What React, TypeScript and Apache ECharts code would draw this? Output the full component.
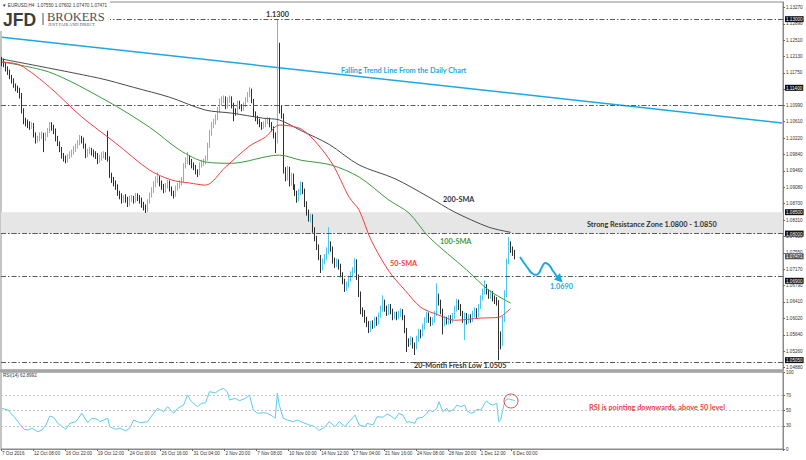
import React, { useEffect, useRef } from "react";
import * as echarts from "echarts";

// ---------- DATA ----------
const xTickLabels = [
  "7 Oct 2016", "12 Oct 08:00", "16 Oct 22:00", "19 Oct 12:00", "24 Oct 00:00",
  "26 Oct 16:00", "31 Oct 04:00", "2 Nov 20:00", "7 Nov 08:00", "10 Nov 00:00",
  "14 Nov 12:00", "17 Nov 04:00", "21 Nov 16:00", "24 Nov 08:00", "28 Nov 20:00",
  "1 Dec 12:00", "6 Dec 00:00",
];
const barsPerLabel = 16;
const totalSlots = 392;

// [open, close, low, high]
const candles: number[][] = [
  [1.1205, 1.1200, 1.1190, 1.1212], [1.1200, 1.1195, 1.1188, 1.1208], [1.1195, 1.1185, 1.1178, 1.1200],
  [1.1185, 1.1176, 1.1170, 1.1190], [1.1176, 1.1165, 1.1160, 1.1182], [1.1165, 1.1158, 1.1150, 1.1170],
  [1.1158, 1.1145, 1.1140, 1.1162], [1.1145, 1.1139, 1.1132, 1.1150], [1.1139, 1.1134, 1.1128, 1.1145],
  [1.1134, 1.1123, 1.1115, 1.1140], [1.1123, 1.1088, 1.1080, 1.1128], [1.1088, 1.1062, 1.1055, 1.1092],
  [1.1062, 1.1058, 1.1050, 1.1070], [1.1058, 1.1055, 1.1046, 1.1066], [1.1055, 1.1050, 1.1042, 1.1062],
  [1.1050, 1.1052, 1.1044, 1.1060], [1.1052, 1.1030, 1.1024, 1.1058], [1.1030, 1.1018, 1.1010, 1.1036],
  [1.1018, 1.1020, 1.1012, 1.1028], [1.1020, 1.1028, 1.1015, 1.1036], [1.1028, 1.1030, 1.1020, 1.1038],
  [1.1030, 1.1022, 1.0990, 1.1035], [1.1022, 1.1030, 1.1016, 1.1036], [1.1030, 1.1040, 1.1025, 1.1046],
  [1.1040, 1.1053, 1.1035, 1.1060], [1.1053, 1.1048, 1.1040, 1.1060], [1.1048, 1.1040, 1.1032, 1.1054],
  [1.1040, 1.1022, 1.1015, 1.1045], [1.1022, 1.1010, 1.1004, 1.1028], [1.1010, 1.0998, 1.0990, 1.1015],
  [1.0998, 1.0982, 1.0975, 1.1002], [1.0982, 1.0975, 1.0968, 1.0988], [1.0975, 1.0971, 1.0964, 1.0982],
  [1.0971, 1.0980, 1.0966, 1.0986], [1.0980, 1.0985, 1.0974, 1.0992], [1.0985, 1.0990, 1.0978, 1.0996],
  [1.0990, 1.0998, 1.0984, 1.1004], [1.0998, 1.1005, 1.0990, 1.1010], [1.1005, 1.1012, 1.0998, 1.1018],
  [1.1012, 1.1023, 1.1006, 1.1030], [1.1023, 1.1018, 1.1010, 1.1028], [1.1018, 1.1005, 1.0998, 1.1024],
  [1.1005, 1.0983, 1.0976, 1.1010], [1.0983, 1.0992, 1.0978, 1.0998], [1.0992, 1.0995, 1.0985, 1.1002],
  [1.0995, 1.0990, 1.0982, 1.1000], [1.0990, 1.0986, 1.0978, 1.0996], [1.0986, 1.0982, 1.0974, 1.0992],
  [1.0982, 1.0971, 1.0962, 1.0988], [1.0971, 1.0978, 1.0965, 1.0984], [1.0978, 1.0982, 1.0970, 1.0990],
  [1.0982, 1.0985, 1.0975, 1.0992], [1.0985, 1.0980, 1.0972, 1.0990], [1.0980, 1.0975, 1.0968, 1.1040],
  [1.0975, 1.0936, 1.0930, 1.0980], [1.0936, 1.0925, 1.0918, 1.0942], [1.0925, 1.0918, 1.0910, 1.0932],
  [1.0918, 1.0910, 1.0902, 1.0924], [1.0910, 1.0895, 1.0888, 1.0915], [1.0895, 1.0888, 1.0880, 1.0900],
  [1.0888, 1.0878, 1.0870, 1.0894], [1.0878, 1.0882, 1.0872, 1.0890], [1.0882, 1.0880, 1.0872, 1.0892],
  [1.0880, 1.0870, 1.0862, 1.0886], [1.0870, 1.0880, 1.0864, 1.0888], [1.0880, 1.0882, 1.0874, 1.0890],
  [1.0882, 1.0878, 1.0870, 1.0888], [1.0878, 1.0888, 1.0872, 1.0895], [1.0888, 1.0885, 1.0876, 1.0894],
  [1.0885, 1.0878, 1.0870, 1.0890], [1.0878, 1.0868, 1.0860, 1.0884], [1.0868, 1.0862, 1.0854, 1.0874],
  [1.0862, 1.0855, 1.0848, 1.0868], [1.0855, 1.0875, 1.0850, 1.0880], [1.0875, 1.0890, 1.0870, 1.0896],
  [1.0890, 1.0901, 1.0884, 1.0908], [1.0901, 1.0915, 1.0895, 1.0922], [1.0915, 1.0925, 1.0908, 1.0934],
  [1.0925, 1.0929, 1.0918, 1.0943], [1.0929, 1.0918, 1.0910, 1.0934], [1.0918, 1.0910, 1.0902, 1.0924],
  [1.0910, 1.0901, 1.0894, 1.0916], [1.0901, 1.0912, 1.0896, 1.0918], [1.0912, 1.0918, 1.0905, 1.0925],
  [1.0918, 1.0905, 1.0898, 1.0924], [1.0905, 1.0895, 1.0888, 1.0910], [1.0895, 1.0892, 1.0882, 1.0900],
  [1.0892, 1.0906, 1.0886, 1.0912], [1.0906, 1.0912, 1.0900, 1.0918], [1.0912, 1.0918, 1.0905, 1.0924],
  [1.0918, 1.0925, 1.0912, 1.0932], [1.0925, 1.0958, 1.0920, 1.0964], [1.0958, 1.0970, 1.0952, 1.0978],
  [1.0970, 1.0976, 1.0962, 1.0990], [1.0976, 1.0968, 1.0960, 1.0982], [1.0968, 1.0960, 1.0952, 1.0974],
  [1.0960, 1.0955, 1.0948, 1.0966], [1.0955, 1.0945, 1.0938, 1.0960], [1.0945, 1.0941, 1.0932, 1.0950],
  [1.0941, 1.0960, 1.0936, 1.0966], [1.0960, 1.0965, 1.0954, 1.0972], [1.0965, 1.0968, 1.0958, 1.0975],
  [1.0968, 1.0975, 1.0962, 1.0982], [1.0975, 1.1005, 1.0970, 1.1012], [1.1005, 1.1035, 1.1000, 1.1042],
  [1.1035, 1.1053, 1.1028, 1.1060], [1.1053, 1.1060, 1.1046, 1.1068], [1.1060, 1.1070, 1.1054, 1.1078],
  [1.1070, 1.1088, 1.1064, 1.1095], [1.1088, 1.1108, 1.1082, 1.1115], [1.1108, 1.1111, 1.1100, 1.1120],
  [1.1111, 1.1115, 1.1104, 1.1122], [1.1115, 1.1098, 1.1090, 1.1120], [1.1098, 1.1112, 1.1092, 1.1118],
  [1.1112, 1.1116, 1.1105, 1.1122], [1.1116, 1.1100, 1.1092, 1.1120], [1.1100, 1.1085, 1.1062, 1.1105],
  [1.1085, 1.1083, 1.1075, 1.1092], [1.1083, 1.1105, 1.1078, 1.1110], [1.1105, 1.1098, 1.1090, 1.1110],
  [1.1098, 1.1092, 1.1085, 1.1102], [1.1092, 1.1100, 1.1086, 1.1106], [1.1100, 1.1112, 1.1095, 1.1118],
  [1.1112, 1.1125, 1.1106, 1.1130], [1.1125, 1.1135, 1.1118, 1.1141], [1.1135, 1.1110, 1.1104, 1.1138],
  [1.1110, 1.1080, 1.1072, 1.1114], [1.1080, 1.1069, 1.1062, 1.1085], [1.1069, 1.1062, 1.1055, 1.1075],
  [1.1062, 1.1055, 1.1048, 1.1068], [1.1055, 1.1050, 1.1042, 1.1060], [1.1050, 1.1055, 1.1044, 1.1062],
  [1.1055, 1.1062, 1.1048, 1.1068], [1.1062, 1.1065, 1.1055, 1.1072], [1.1065, 1.1055, 1.1048, 1.1070],
  [1.1055, 1.1045, 1.1038, 1.1060], [1.1045, 1.1030, 1.1022, 1.1050], [1.1030, 1.1018, 1.0988, 1.1036],
  [1.1018, 1.1232, 1.1010, 1.1300], [1.1232, 1.1090, 1.1080, 1.1245], [1.1090, 1.1075, 1.1068, 1.1098],
  [1.1075, 1.0948, 1.0940, 1.1080], [1.0948, 1.0930, 1.0922, 1.0955], [1.0930, 1.0950, 1.0924, 1.0958],
  [1.0950, 1.0918, 1.0910, 1.0956], [1.0918, 1.0935, 1.0912, 1.0942], [1.0935, 1.0910, 1.0902, 1.0940],
  [1.0910, 1.0895, 1.0888, 1.0915], [1.0895, 1.0880, 1.0872, 1.0900], [1.0880, 1.0897, 1.0875, 1.0904],
  [1.0897, 1.0915, 1.0890, 1.0922], [1.0915, 1.0900, 1.0892, 1.0920], [1.0900, 1.0870, 1.0862, 1.0905],
  [1.0870, 1.0850, 1.0842, 1.0875], [1.0850, 1.0835, 1.0828, 1.0856], [1.0835, 1.0840, 1.0826, 1.0846],
  [1.0840, 1.0810, 1.0802, 1.0845], [1.0810, 1.0790, 1.0782, 1.0815], [1.0790, 1.0770, 1.0762, 1.0795],
  [1.0770, 1.0745, 1.0738, 1.0775], [1.0745, 1.0720, 1.0708, 1.0750], [1.0720, 1.0735, 1.0714, 1.0742],
  [1.0735, 1.0745, 1.0728, 1.0752], [1.0745, 1.0760, 1.0738, 1.0768], [1.0760, 1.0775, 1.0752, 1.0815],
  [1.0775, 1.0765, 1.0758, 1.0782], [1.0765, 1.0738, 1.0730, 1.0770], [1.0738, 1.0728, 1.0720, 1.0744],
  [1.0728, 1.0735, 1.0722, 1.0742], [1.0735, 1.0725, 1.0716, 1.0740], [1.0725, 1.0705, 1.0698, 1.0730],
  [1.0705, 1.0690, 1.0682, 1.0710], [1.0690, 1.0672, 1.0664, 1.0695], [1.0672, 1.0680, 1.0666, 1.0688],
  [1.0680, 1.0695, 1.0674, 1.0702], [1.0695, 1.0705, 1.0688, 1.0712], [1.0705, 1.0715, 1.0698, 1.0722],
  [1.0715, 1.0735, 1.0708, 1.0743], [1.0735, 1.0700, 1.0692, 1.0740], [1.0700, 1.0660, 1.0652, 1.0705],
  [1.0660, 1.0620, 1.0612, 1.0665], [1.0620, 1.0615, 1.0606, 1.0628], [1.0615, 1.0600, 1.0592, 1.0622],
  [1.0600, 1.0590, 1.0582, 1.0606], [1.0590, 1.0575, 1.0568, 1.0596], [1.0575, 1.0590, 1.0570, 1.0596],
  [1.0590, 1.0585, 1.0578, 1.0598], [1.0585, 1.0600, 1.0580, 1.0606], [1.0600, 1.0592, 1.0585, 1.0606],
  [1.0592, 1.0610, 1.0588, 1.0616], [1.0610, 1.0625, 1.0604, 1.0632], [1.0625, 1.0640, 1.0618, 1.0656],
  [1.0640, 1.0625, 1.0618, 1.0646], [1.0625, 1.0615, 1.0608, 1.0632], [1.0615, 1.0630, 1.0610, 1.0636],
  [1.0630, 1.0620, 1.0612, 1.0636], [1.0620, 1.0605, 1.0598, 1.0625], [1.0605, 1.0612, 1.0600, 1.0618],
  [1.0612, 1.0605, 1.0598, 1.0618], [1.0605, 1.0612, 1.0600, 1.0620], [1.0612, 1.0618, 1.0606, 1.0626],
  [1.0618, 1.0605, 1.0598, 1.0624], [1.0605, 1.0575, 1.0568, 1.0610], [1.0575, 1.0548, 1.0524, 1.0580],
  [1.0548, 1.0545, 1.0536, 1.0556], [1.0545, 1.0552, 1.0540, 1.0560], [1.0552, 1.0540, 1.0532, 1.0558],
  [1.0540, 1.0535, 1.0517, 1.0546], [1.0535, 1.0555, 1.0530, 1.0562], [1.0555, 1.0570, 1.0548, 1.0578],
  [1.0570, 1.0565, 1.0556, 1.0576], [1.0565, 1.0582, 1.0560, 1.0590], [1.0582, 1.0598, 1.0576, 1.0605],
  [1.0598, 1.0610, 1.0592, 1.0618], [1.0610, 1.0600, 1.0592, 1.0616], [1.0600, 1.0592, 1.0584, 1.0606],
  [1.0592, 1.0598, 1.0586, 1.0605], [1.0598, 1.0612, 1.0592, 1.0620], [1.0612, 1.0650, 1.0608, 1.0684],
  [1.0650, 1.0640, 1.0632, 1.0660], [1.0640, 1.0620, 1.0612, 1.0646], [1.0620, 1.0590, 1.0565, 1.0625],
  [1.0590, 1.0600, 1.0584, 1.0608], [1.0600, 1.0595, 1.0588, 1.0606], [1.0595, 1.0603, 1.0588, 1.0610],
  [1.0603, 1.0598, 1.0590, 1.0610], [1.0598, 1.0608, 1.0592, 1.0615], [1.0608, 1.0625, 1.0602, 1.0632],
  [1.0625, 1.0640, 1.0618, 1.0648], [1.0640, 1.0630, 1.0622, 1.0646], [1.0630, 1.0615, 1.0608, 1.0636],
  [1.0615, 1.0600, 1.0592, 1.0620], [1.0600, 1.0610, 1.0552, 1.0616], [1.0610, 1.0595, 1.0588, 1.0615],
  [1.0595, 1.0605, 1.0590, 1.0612], [1.0605, 1.0600, 1.0592, 1.0612], [1.0600, 1.0612, 1.0594, 1.0620],
  [1.0612, 1.0620, 1.0605, 1.0628], [1.0620, 1.0610, 1.0602, 1.0626], [1.0610, 1.0630, 1.0605, 1.0636],
  [1.0630, 1.0650, 1.0624, 1.0656], [1.0650, 1.0665, 1.0644, 1.0672], [1.0665, 1.0675, 1.0658, 1.0691],
  [1.0675, 1.0665, 1.0658, 1.0682], [1.0665, 1.0655, 1.0648, 1.0670], [1.0655, 1.0660, 1.0648, 1.0668],
  [1.0660, 1.0650, 1.0642, 1.0666], [1.0650, 1.0645, 1.0636, 1.0656], [1.0645, 1.0640, 1.0632, 1.0652],
  [1.0640, 1.0560, 1.0505, 1.0645], [1.0560, 1.0545, 1.0530, 1.0572], [1.0545, 1.0600, 1.0538, 1.0608],
  [1.0600, 1.0660, 1.0594, 1.0668], [1.0660, 1.0735, 1.0652, 1.0742], [1.0735, 1.0775, 1.0728, 1.0792],
  [1.0775, 1.0762, 1.0755, 1.0782], [1.0762, 1.0755, 1.0748, 1.0770], [1.0755, 1.0747, 1.0740, 1.0762],
];

// moving averages: [bar index, value]
const sma200 = [
  [0, 1.1207], [49, 1.1162], [66, 1.1141], [84, 1.1118], [102, 1.1088], [115, 1.1081], [131, 1.1069],
  [139, 1.1065], [150, 1.104], [164, 1.1008], [179, 1.096], [197, 1.0928], [214, 1.0885], [227, 1.085],
  [244, 1.0815], [255, 1.0803],
];
const sma100 = [
  [0, 1.12], [24, 1.1176], [52, 1.1111], [74, 1.1048], [89, 1.0995], [102, 1.0967], [115, 1.0964],
  [139, 1.0983], [150, 1.0971], [165, 1.096], [179, 1.0932], [194, 1.0878], [204, 1.0848], [214, 1.0792],
  [233, 1.0715], [244, 1.0668], [255, 1.0638],
];
const sma50 = [
  [0, 1.12], [9, 1.1193], [24, 1.1141], [40, 1.1072], [57, 1.1011], [74, 1.0948], [85, 1.0925],
  [94, 1.0918], [102, 1.0913], [112, 1.0955], [124, 1.1004], [132, 1.1025], [139, 1.1053], [151, 1.1041],
  [165, 1.0967], [174, 1.0885], [179, 1.0855], [185, 1.0785], [194, 1.0712], [202, 1.0668], [210, 1.0628],
  [219, 1.061], [227, 1.0598], [240, 1.0603], [249, 1.0605], [255, 1.0626],
];
const trendLine = [[0, 1.1258], [391, 1.1058]];

const rsi = [
  [0, 52.8], [3, 50.6], [6, 42], [8, 35.5], [11, 25.6], [13, 24.7], [15, 26.9], [18, 22.5], [20, 24.7],
  [22, 31], [24, 42.8], [26, 41], [28, 33.4], [32, 25.6], [34, 33.4], [37, 35.5], [40, 46.4], [43, 34.2],
  [45, 39.9], [48, 38.6], [49, 35.5], [53, 39.9], [54, 29], [57, 25.6], [59, 26.9], [62, 23.8], [64, 26.9],
  [66, 37.7], [69, 34.2], [73, 35.5], [76, 46.4], [78, 52.8], [81, 48.4], [83, 55], [86, 46.4], [88, 52.8],
  [91, 57], [93, 70], [95, 61.4], [98, 55], [100, 59.4], [102, 60], [104, 74.4], [107, 73], [109, 76.6],
  [111, 78.8], [113, 74.4], [114, 63.6], [117, 65.8], [119, 62.7], [122, 65.8], [124, 70], [126, 50.6],
  [128, 46.4], [131, 47.1], [133, 46.4], [136, 42], [137, 39.9], [138, 72.3], [139, 57], [141, 39.9],
  [143, 37.7], [146, 35.5], [148, 37.7], [151, 34.2], [154, 31.2], [157, 29], [159, 23.8], [162, 29],
  [164, 35.5], [167, 29], [169, 35.5], [172, 29], [174, 35.5], [177, 44], [179, 31.2], [182, 29],
  [183, 33.4], [186, 31.2], [188, 42], [191, 41.2], [193, 45.5], [195, 42.9], [197, 38.6], [199, 46.4],
  [201, 44], [203, 34.2], [204, 35.5], [207, 33.4], [208, 39.9], [211, 41.2], [213, 46.4], [214, 50.6],
  [216, 48.4], [218, 52.8], [219, 61.4], [221, 48.4], [223, 52.8], [224, 48.4], [226, 50.6], [228, 57],
  [230, 55], [232, 57], [233, 49.7], [235, 46.4], [237, 48.4], [238, 51.5], [240, 50.6], [242, 59.4],
  [243, 62.7], [244, 59.4], [246, 57], [248, 59.4], [249, 35.5], [250, 37.7], [251, 50.6], [252, 61.4],
  [253, 64.5], [254, 65], [256, 63.6], [257, 62.9],
];

const priceTicks = [
  1.0488, 1.0526, 1.0564, 1.0602, 1.0641, 1.0679, 1.0717, 1.0755, 1.0793, 1.0831, 1.087, 1.0908,
  1.0946, 1.0984, 1.1022, 1.1061, 1.1099, 1.1137, 1.1175, 1.1213, 1.1251, 1.1289, 1.1327,
];
const keyLevels = [1.13, 1.114, 1.085, 1.08, 1.069, 1.0505];
const lastPrice = 1.07471;
const resistanceZone = [1.08, 1.085];
const rsiTicks = [0, 30, 50, 70, 100];
const rsiLevels = [30, 50, 70];
const headerText = "\u25BC EURUSD,H4  1.07550 1.07602 1.07470 1.07471";
const rsiHeader = "RSI(14) 62.8992";

// ---------- STYLE ----------
const BULL = "#4cc6f2";
const BEAR = "#2e2e2e";
const BLUE = "#1ea8e0";
const RED = "#f04040";
const GREEN = "#3a9a3a";
const DARK = "#333333";
const AX_FONT = "Liberation Sans";
const ANN_FONT = "Lato";

const categories = Array.from({ length: totalSlots }, (_, i) => String(i));
const isTick = (i: number) => i % barsPerLabel === 0 && i / barsPerLabel < xTickLabels.length;

function annText(text: string, x: number, y: number, fill: string) {
  return {
    type: "text",
    x,
    y,
    z: 100,
    style: { text, fill, font: `bold 7.3px ${ANN_FONT}`, textVerticalAlign: "middle" },
  };
}

function buildOption() {
  return {
    animation: false,
    backgroundColor: "#ffffff",
    grid: [
      { left: 1, right: 23, top: 2, height: 368, show: true, borderColor: "#8a8a8a", borderWidth: 1, outerBoundsMode: "none" },
      { left: 1, right: 23, top: 372, height: 77, show: true, borderColor: "#8a8a8a", borderWidth: 1, outerBoundsMode: "none" },
    ],
    xAxis: [
      {
        type: "category", gridIndex: 0, data: categories, boundaryGap: true,
        axisLine: { show: false }, axisTick: { show: false }, axisLabel: { show: false }, splitLine: { show: false },
      },
      {
        type: "category", gridIndex: 1, data: categories, boundaryGap: true,
        axisLine: { show: true, lineStyle: { color: "#8a8a8a" } },
        axisTick: { show: true, interval: (i: number) => isTick(i), length: 2, lineStyle: { color: "#666" } },
        axisLabel: {
          show: true,
          interval: (i: number) => isTick(i),
          formatter: (_v: string, i: number) => (isTick(i) ? xTickLabels[i / barsPerLabel] : ""),
          align: "left",
          fontSize: 4.6,
          fontFamily: AX_FONT,
          color: DARK,
          margin: 2,
        },
        splitLine: { show: false },
      },
    ],
    yAxis: [
      {
        type: "value", gridIndex: 0, position: "right", min: 1.0482, max: 1.134, scale: true,
        axisLine: { show: true, lineStyle: { color: "#8a8a8a" } },
        axisTick: { show: true, length: 2, customValues: priceTicks, lineStyle: { color: "#666" } },
        axisLabel: {
          customValues: priceTicks,
          formatter: (v: number) => v.toFixed(5),
          fontSize: 4.6, fontFamily: AX_FONT, color: DARK, margin: 3,
        },
        splitLine: { show: false },
      },
      {
        type: "value", gridIndex: 0, position: "right", min: 1.0482, max: 1.134, scale: true,
        axisLine: { show: false }, axisTick: { show: false }, splitLine: { show: false },
        axisLabel: {
          customValues: [...keyLevels, lastPrice],
          formatter: (v: number) => (v === lastPrice ? `{g|${v.toFixed(5)}}` : `{b|${v.toFixed(5)}}`),
          margin: 2,
          rich: {
            b: { backgroundColor: "#111", color: "#fff", fontSize: 4.6, fontFamily: AX_FONT, padding: [1, 1, 0, 1] },
            g: { backgroundColor: "#555", color: "#fff", fontSize: 4.6, fontFamily: AX_FONT, padding: [1, 1, 0, 1] },
          },
        },
      },
      {
        type: "value", gridIndex: 1, position: "right", min: 0, max: 100,
        axisLine: { show: true, lineStyle: { color: "#8a8a8a" } },
        axisTick: { show: true, length: 2, customValues: rsiTicks, lineStyle: { color: "#666" } },
        axisLabel: { customValues: rsiTicks, fontSize: 4.6, fontFamily: AX_FONT, color: DARK, margin: 3 },
        splitLine: { show: false },
      },
    ],
    series: [
      {
        name: "Trend",
        type: "line",
        xAxisIndex: 0, yAxisIndex: 0,
        data: trendLine,
        symbol: "none",
        lineStyle: { color: BLUE, width: 1.5 },
        z: 1,
        silent: true,
        markArea: {
          silent: true,
          itemStyle: { color: "#e6e6e6" },
          data: [[{ yAxis: resistanceZone[0] }, { yAxis: resistanceZone[1] }]],
        },
        markLine: {
          silent: true,
          symbol: ["none", "none"],
          label: { show: false },
          lineStyle: { color: "#5a5a5a", type: [5, 2, 1.5, 2], width: 1 },
          data: keyLevels.map((v) => ({ yAxis: v })),
        },
      },
      {
        name: "EURUSD",
        type: "candlestick",
        xAxisIndex: 0, yAxisIndex: 0,
        data: candles,
        barWidth: 1,
        z: 3,
        itemStyle: { color: BULL, color0: BEAR, borderColor: BULL, borderColor0: BEAR, borderWidth: 1 },
      },
      {
        name: "200-SMA", type: "line", xAxisIndex: 0, yAxisIndex: 0, data: sma200, symbol: "none",
        smooth: 0.3, lineStyle: { color: "#4a4a4a", width: 1 }, z: 4,
      },
      {
        name: "100-SMA", type: "line", xAxisIndex: 0, yAxisIndex: 0, data: sma100, symbol: "none",
        smooth: 0.3, lineStyle: { color: GREEN, width: 1 }, z: 4,
      },
      {
        name: "50-SMA", type: "line", xAxisIndex: 0, yAxisIndex: 0, data: sma50, symbol: "none",
        smooth: 0.3, lineStyle: { color: RED, width: 1 }, z: 4,
      },
      {
        name: "RSI", type: "line", xAxisIndex: 1, yAxisIndex: 2, data: rsi, symbol: "none",
        lineStyle: { color: "#5ccbee", width: 1 }, z: 4,
        markLine: {
          silent: true,
          symbol: ["none", "none"],
          label: { show: false },
          lineStyle: { color: "#c4c4c4", type: [2, 2], width: 1 },
          data: rsiLevels.map((v) => ({ yAxis: v })),
        },
      },
    ],
    graphic: [
      // separator between panels
      { type: "rect", z: 90, shape: { x: 0, y: 369.5, width: 784, height: 3 }, style: { fill: "#a6a6a6" } },
      // logo & header background
      { type: "rect", z: 95, shape: { x: 0, y: 0, width: 110, height: 31 }, style: { fill: "#ffffff" } },
      { type: "text", z: 100, x: 2, y: 5, style: { text: headerText, fill: DARK, font: `4.6px ${AX_FONT}`, textVerticalAlign: "middle" } },
      { type: "text", z: 100, x: 3, y: 19.5, style: { text: "JFD", fill: "#3c3c3c", font: `bold 17.5px ${AX_FONT}`, textVerticalAlign: "middle" } },
      { type: "rect", z: 100, shape: { x: 42.5, y: 13, width: 1, height: 12 }, style: { fill: "#555" } },
      { type: "text", z: 100, x: 47, y: 16.5, style: { text: "BROKERS", fill: "#505050", font: `12.5px "Liberation Serif"`, textVerticalAlign: "middle" } },
      { type: "text", z: 100, x: 48, y: 24.5, style: { text: "JUST FAIR AND DIRECT", fill: "#505050", font: `4.3px "Liberation Serif"`, textVerticalAlign: "middle" } },
      { type: "text", z: 100, x: 3, y: 375.5, style: { text: rsiHeader, fill: DARK, font: `4.6px ${AX_FONT}`, textVerticalAlign: "middle" } },
      // annotations
      annText("1.1300", 266, 14.5, DARK),
      annText("Falling Trend Line From the Daily Chart", 341, 70, BLUE),
      annText("200-SMA", 443, 199, DARK),
      annText("Strong Resistance Zone 1.0800 - 1.0850", 587, 224, DARK),
      annText("100-SMA", 440, 241, GREEN),
      annText("50-SMA", 390, 263.5, RED),
      annText("1.0690", 550, 286.5, BLUE),
      annText("20-Month Fresh Low 1.0505", 414, 365, DARK),
      annText("RSI is pointing downwards, above 50 level", 589, 407, RED),
      // forecast arrow
      {
        type: "polyline", z: 100,
        shape: { points: [[520, 257], [527, 267], [533, 274], [538, 274], [542, 267], [545, 263], [549, 265], [553, 271], [557.5, 277]], smooth: 0.5 },
        style: { stroke: BLUE, lineWidth: 2, fill: "none" },
      },
      {
        type: "polygon", z: 100,
        shape: { points: [[562.5, 282.5], [554, 279.5], [560, 273]] },
        style: { fill: BLUE },
      },
      // RSI circle
      { type: "circle", z: 100, shape: { cx: 511, cy: 401, r: 7 }, style: { stroke: "#e05050", fill: "none", lineWidth: 1 } },
    ],
  };
}

export default function App() {
  const ref = useRef<HTMLDivElement>(null);
  useEffect(() => {
    if (!ref.current) return;
    const chart = echarts.init(ref.current, null, { renderer: "svg" });
    chart.setOption(buildOption() as any);
    return () => chart.dispose();
  }, []);
  return (
    <div
      ref={ref}
      style={{ position: "fixed", left: 0, top: 0, width: 806, height: 460, background: "#fff" }}
    />
  );
}
